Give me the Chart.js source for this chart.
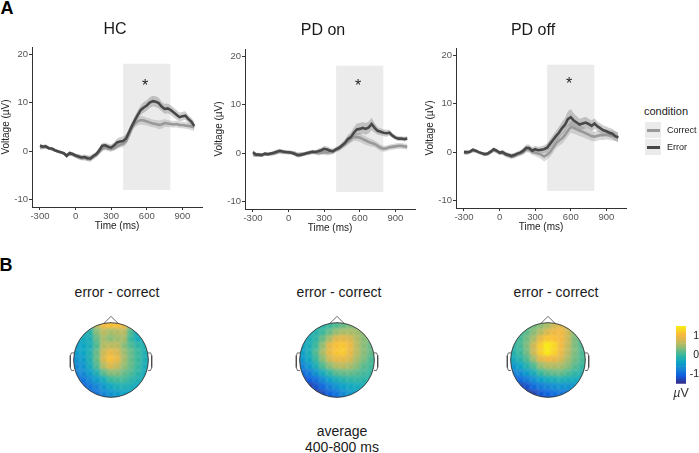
<!DOCTYPE html>
<html>
<head>
<meta charset="utf-8">
<script src="https://cdn.jsdelivr.net/npm/chart.js@4/dist/chart.umd.min.js"></script>
<style>
  html, body { margin: 0; background: #fff; }
  #page { position: relative; width: 699px; height: 453px; overflow: hidden; font-family: "Liberation Sans", Arial, sans-serif; color: #1a1a1a; }
  #page canvas { position: absolute; }
  .txt { position: absolute; transform: translate(-50%, -50%); white-space: nowrap; line-height: 1; }
  .keybox { position: absolute; background: #ebebeb; width: 16px; height: 16px; }
  .keyline { position: absolute; height: 3px; width: 13px; }
</style>
</head>
<body>
<div id="page"></div>
<script>
// Datos
const times = [-300,-275,-250,-225,-200,-175,-150,-125,-100,-75,-50,-25,0,25,50,75,100,125,150,175,200,225,250,275,300,325,350,375,400,425,450,475,500,525,550,575,600,625,650,675,700,725,750,775,800,825,850,875,900,925,950,975,1000];

const hcCorrect = [.8,.8,.9,.6,.4,.2,-.1,-.3,-.5,-.8,-.6,-.7,-1,-1.2,-1.4,-1.4,-1.5,-1.6,-1.2,-.8,-.2,.5,.7,.5,.4,.6,1,1.3,1.5,2,3.3,4.8,5.7,6.2,6.4,6.3,6.1,5.9,5.7,5.6,5.4,5.5,5.8,5.7,5.6,5.5,5.6,5.4,5.4,5.3,5.2,5.1,4.9];
const hcError = [1.1,.9,1,.6,.55,.2,0,-.2,-.4,-1,-.4,-.6,-.9,-1.1,-1.3,-1.2,-1.45,-1.5,-1,-.6,.2,1.1,1.2,.9,.75,1.2,1.8,2,2.1,2.6,3.9,5.2,6.4,7.5,8.5,9,9.4,10,10.3,10.2,9.9,9.2,8.7,8.8,8.5,8,7.5,7,7.2,7.3,6.6,6.1,5.2];
const hcCorrectSem = [.5,.4,.4,.3,.3,.3,.3,.3,.3,.4,.4,.4,.4,.5,.5,.5,.6,.6,.5,.5,.5,.5,.5,.5,.5,.5,.6,.6,.7,.7,.7,.7,.8,.9,.9,.9,.8,.8,.8,.8,.9,.9,.8,.7,.7,.7,.7,.7,.7,.7,.7,.8,.8];
const hcErrorSem = [.5,.4,.4,.3,.3,.3,.3,.3,.3,.4,.4,.4,.4,.5,.5,.5,.6,.6,.5,.5,.6,.6,.6,.6,.6,.7,.8,.9,.9,.9,.8,.8,.9,.9,1,1.1,1.1,1.1,1.1,1.1,1.1,1,1,1,1,1,1,.9,.9,.9,.8,.8,.8];

const onCorrect = [-.3,-.4,-.4,-.5,-.2,-.3,-.2,-.1,.1,.3,.2,.2,.1,.1,-.1,-.3,-.3,-.2,-.1,0,.2,.1,0,.1,.2,.1,.2,.3,.7,.9,1.4,1.9,2.5,3,3.3,3.3,3.2,2.9,2.6,2.3,2.1,1.9,1.5,1.1,.9,1,1.2,1.3,1.4,1.5,1.5,1.4,1.3];
const onError = [.2,-.3,-.3,-.35,-.1,-.2,-.05,.1,.3,.5,.35,.25,.2,.1,-.1,-.4,-.35,-.2,0,.15,.3,.25,.4,.6,.9,.75,.5,.4,.8,1.1,1.6,2.1,2.9,3.3,4.2,4.9,5,5.2,5,5.3,6,5.2,4.6,4.4,4.2,4.1,4.2,3.6,3.2,3,3,2.9,3];
const onCorrectSem = [.5,.4,.4,.3,.3,.3,.3,.4,.4,.4,.4,.4,.4,.4,.5,.5,.5,.4,.4,.4,.4,.4,.5,.5,.6,.6,.6,.5,.5,.5,.6,.7,.8,.8,.8,.8,.9,.9,.9,.8,.8,.7,.7,.7,.6,.6,.6,.6,.6,.6,.6,.6,.6];
const onErrorSem = [.5,.4,.4,.3,.3,.3,.3,.4,.4,.4,.4,.4,.4,.4,.5,.5,.5,.4,.4,.4,.4,.4,.5,.5,.6,.6,.6,.5,.5,.5,.6,.7,.9,1,1.1,1.2,1.2,1.2,1.2,1.2,1.3,1,.8,.7,.7,.7,.6,.5,.5,.5,.5,.5,.5];

const offCorrect = [-.1,-.2,0,.3,.2,-.1,-.3,-.5,-.4,0,.4,.2,-.2,-.1,-.5,-.7,-.9,-.8,-.5,-.3,0,.6,.6,.1,-.1,-.3,-.5,-.9,-.5,0,.9,1.8,2.4,2.8,3.5,4.4,5.2,5,4.7,4.4,4.2,3.9,3.6,3.3,3.2,3.4,3.5,3.5,3.6,3.5,3.4,3.3,3.1];
const offError = [0,0,.1,.5,.3,0,-.2,-.4,-.3,.1,.6,.3,-.1,0,-.4,-.6,-.8,-.6,-.3,-.1,.3,.9,.8,.3,.6,.4,.5,.6,.9,1.7,2.5,3.3,4,4.9,5.6,6.8,7.2,6.5,6.1,5.7,5.9,6.1,5.8,5.4,5.9,5.3,4.9,4.5,4.3,4,3.8,3.3,3];
const offCorrectSem = [.4,.4,.3,.3,.3,.3,.3,.3,.4,.4,.4,.4,.4,.5,.5,.5,.5,.5,.5,.5,.6,.6,.7,.7,.7,.8,.9,1,1,1,1,1,1.1,1.1,1.1,1.2,1.2,1.2,1.1,1.1,1.1,1.1,1,1,1,1,1,1,1,1,1,1,1];
const offErrorSem = [.4,.4,.3,.3,.3,.3,.3,.3,.4,.4,.4,.4,.4,.5,.5,.5,.5,.5,.5,.5,.6,.7,.7,.7,.7,.7,.7,.8,.9,1,1,1.1,1.2,1.3,1.4,1.6,1.7,1.5,1.3,1.2,1.2,1.2,1.1,1.1,1.1,1,1,1,1,1,1,1,.9];

const xTicks = [-300,0,300,600,900];
const yTicks = [-10,0,10,20];
const windowTimes = [400,800];
const windowTop = 18;
const windowBottom = -8;
const panelNames = ['HC','PD on','PD off'];
const conditionNames = ['Correct','Error'];

// Mapas: filas de arriba abajo, columnas de izquierda a derecha (uV)
const topoAxis = [-1.1,-.92,-.73,-.55,-.37,-.18,0,.18,.37,.55,.73,.92,1.1];
const hcTopo = [
  [-.3,-.3,-.2,.1,.5,1,1.1,1.1,1,.5,.1,-.2,-.3],
  [-.4,-.4,-.3,.1,.6,1,1.1,1.1,.95,.4,-.1,-.3,-.3],
  [-.4,-.4,-.3,-.15,.35,.6,.5,.55,.6,.1,-.35,-.45,-.3],
  [-.5,-.4,-.3,-.25,.2,.5,.35,.45,.5,0,-.3,-.25,-.2],
  [-.5,-.5,-.4,-.25,.1,.55,.6,.6,.35,.1,-.1,-.2,-.2],
  [-.6,-.5,-.4,-.2,.2,.7,.9,.75,.45,.2,0,-.2,-.3],
  [-.7,-.6,-.5,-.2,.2,.75,1.1,.9,.5,.2,0,-.2,-.4],
  [-.8,-.7,-.6,-.3,.1,.55,.8,.65,.4,.2,0,-.25,-.4],
  [-.9,-.8,-.7,-.5,-.2,.15,.35,.35,.2,.1,-.1,-.3,-.4],
  [-1,-1,-.9,-.7,-.5,-.3,0,.05,.05,-.1,-.2,-.3,-.4],
  [-1.15,-1.15,-1,-.9,-.75,-.55,-.35,-.25,-.2,-.25,-.35,-.4,-.5],
  [-1.2,-1.2,-1.1,-1,-.9,-.75,-.6,-.5,-.45,-.45,-.45,-.5,-.5],
  [-1.2,-1.2,-1.2,-1.1,-1,-.9,-.75,-.65,-.55,-.55,-.55,-.55,-.55]
];
const onTopo = [
  [-.1,-.1,-.1,-.1,-.1,-.05,.05,.1,.15,.2,.2,.2,.1],
  [-.2,-.2,-.2,-.15,-.1,0,.1,.2,.3,.3,.3,.3,.2],
  [-.3,-.3,-.25,-.15,0,.2,.4,.5,.5,.45,.35,.3,.2],
  [-.4,-.35,-.25,-.1,.2,.5,.8,.85,.75,.55,.35,.3,.2],
  [-.45,-.4,-.25,0,.4,.85,1.1,1.15,.95,.6,.35,.2,.15],
  [-.5,-.45,-.25,.1,.5,.9,1.15,1.2,.9,.6,.35,.2,.1],
  [-.6,-.55,-.35,0,.35,.7,.9,.9,.75,.5,.3,.1,0],
  [-.8,-.75,-.55,-.25,.1,.35,.55,.6,.5,.35,.15,.05,0],
  [-1,-1,-.85,-.6,-.3,-.05,.15,.2,.2,.15,.05,-.05,-.05],
  [-1.3,-1.25,-1.1,-.95,-.7,-.45,-.25,-.15,-.1,-.05,-.1,-.15,-.15],
  [-1.5,-1.45,-1.4,-1.2,-1,-.8,-.6,-.45,-.35,-.3,-.3,-.3,-.3],
  [-1.6,-1.55,-1.5,-1.4,-1.25,-1.05,-.9,-.7,-.55,-.45,-.4,-.4,-.4],
  [-1.6,-1.6,-1.5,-1.4,-1.3,-1.2,-1.05,-.85,-.7,-.6,-.5,-.45,-.4]
];
const offTopo = [
  [0,0,.05,.1,.2,.3,.35,.45,.5,.4,.2,.1,0],
  [0,0,.05,.1,.25,.35,.5,.7,.8,.6,.3,.1,0],
  [-.05,-.05,.05,.15,.35,.55,.75,.95,1,.7,.3,.1,-.05],
  [-.1,-.1,.05,.25,.5,.9,1.15,1.1,1,.7,.3,.1,-.05],
  [-.1,-.1,.05,.3,.7,1.2,1.45,1.3,1,.65,.3,.1,-.05],
  [-.15,-.15,0,.25,.7,1.2,1.45,1.25,.95,.6,.3,.1,0],
  [-.3,-.3,-.15,.1,.45,.85,1,.95,.75,.5,.25,.1,0],
  [-.55,-.55,-.4,-.15,.1,.4,.55,.55,.5,.35,.15,0,-.1],
  [-.8,-.8,-.7,-.5,-.25,0,.15,.2,.2,.1,-.05,-.15,-.2],
  [-1.1,-1.1,-1,-.85,-.65,-.45,-.3,-.25,-.2,-.25,-.3,-.35,-.4],
  [-1.3,-1.3,-1.3,-1.2,-1,-.85,-.75,-.65,-.6,-.6,-.6,-.65,-.7],
  [-1.5,-1.5,-1.5,-1.4,-1.3,-1.15,-1.05,-.95,-.9,-.85,-.85,-.85,-.85],
  [-1.6,-1.6,-1.6,-1.5,-1.4,-1.3,-1.2,-1.1,-1,-1,-1,-1,-1]
];
const noseX = [-.19,0,.19];
const noseY = [-.98,-1.17,-.98];
const leftEarX = [-.99,-1.06,-1.09,-1.09,-1.06,-.99];
const rightEarX = [.99,1.06,1.09,1.09,1.06,.99];
const earY = [-.19,-.19,-.12,.2,.28,.28];
const colorbarLevels = [-1.5,-1.4,-1.3,-1.2,-1.1,-1,-.9,-.8,-.7,-.6,-.5,-.4,-.3,-.2,-.1,0,.1,.2,.3,.4,.5,.6,.7,.8,.9,1,1.1,1.2,1.3,1.4];
const colorbarTicks = [-1,0,1];
const colorbarStep = .1;

const page = document.getElementById('page');
const GREY_LINE = '#999999', DARK_LINE = '#484848';

function addText(text, x, y, css) {
  const d = document.createElement('div');
  d.className = 'txt';
  d.textContent = text;
  d.style.left = x + 'px';
  d.style.top = y + 'px';
  d.style.cssText += css || '';
  page.appendChild(d);
  return d;
}
function addCanvas(left, top, w, h) {
  const c = document.createElement('canvas');
  c.width = w; c.height = h;
  c.style.left = left + 'px'; c.style.top = top + 'px';
  page.appendChild(c);
  return c.getContext('2d');
}
const zip = (xs, ys) => xs.map((x, i) => ({ x, y: ys[i] }));

// Paneles ERP
function bandSets(mean, sem, color) {
  const up = mean.map((v, i) => v + sem[i]);
  const lo = mean.map((v, i) => v - sem[i]);
  return [
    { data: zip(times, up), showLine: true, borderWidth: 0, pointRadius: 0, backgroundColor: color, fill: '+1' },
    { data: zip(times, lo), showLine: true, borderWidth: 0, pointRadius: 0, fill: false }
  ];
}
function erpChart(left, top, correct, error, correctSem, errorSem) {
  const ctx = addCanvas(left, top, 210, 214);
  return new Chart(ctx, {
    type: 'scatter',
    data: { datasets: [
      { data: zip(times, error), showLine: true, borderColor: DARK_LINE, borderWidth: 2.6, pointRadius: 0 },
      { data: zip(times, correct), showLine: true, borderColor: GREY_LINE, borderWidth: 2.6, pointRadius: 0 },
      ...bandSets(error, errorSem, 'rgba(105,105,105,.33)'),
      ...bandSets(correct, correctSem, 'rgba(165,165,165,.42)'),
      { data: zip(windowTimes, [windowTop, windowTop]), showLine: true, borderWidth: 0, pointRadius: 0, backgroundColor: '#ebebeb', fill: { value: windowBottom } }
    ] },
    options: {
      responsive: false, animation: false, events: [],
      layout: { padding: { top: 29, right: 8, left: 0, bottom: 0 } },
      plugins: { legend: { display: false }, tooltip: { enabled: false } },
      scales: {
        x: {
          type: 'linear', min: -367, max: 1065,
          afterBuildTicks: s => { s.ticks = xTicks.map(value => ({ value })); },
          afterFit: s => { s.height = 25; },
          grid: { drawOnChartArea: false, tickLength: 3, tickColor: '#333', tickWidth: 1 },
          border: { color: '#333', width: 1 },
          ticks: { color: '#555', font: { size: 9.5, family: 'Liberation Sans' }, padding: 1, maxRotation: 0 },
          title: { display: true, text: 'Time (ms)', color: '#222', font: { size: 10, family: 'Liberation Sans' }, padding: 0 }
        },
        y: {
          min: -11.5, max: 21.45,
          afterBuildTicks: s => { s.ticks = yTicks.map(value => ({ value })); },
          afterFit: s => { s.width = 32; },
          grid: { drawOnChartArea: false, tickLength: 3, tickColor: '#333', tickWidth: 1 },
          border: { color: '#333', width: 1 },
          ticks: { color: '#555', font: { size: 9.5, family: 'Liberation Sans' }, padding: 1 },
          title: { display: true, text: 'Voltage (µV)', color: '#222', font: { size: 10, family: 'Liberation Sans' }, padding: 0 }
        }
      }
    }
  });
}
erpChart(0, 18, hcCorrect, hcError, hcCorrectSem, hcErrorSem);
erpChart(213, 20, onCorrect, onError, onCorrectSem, onErrorSem);
erpChart(424, 19, offCorrect, offError, offCorrectSem, offErrorSem);

// Colores tipo parula, por valor
const colorStops = [[-1.5,[53,42,135]],[-1.1,[13,95,224]],[-.75,[21,133,212]],[-.4,[10,165,197]],[0,[56,183,156]],[.4,[149,189,114]],[.75,[216,184,80]],[1.05,[248,185,62]],[1.5,[249,240,14]]];
function valueColor(v) {
  v = Math.max(-1.5, Math.min(1.5, v));
  let i = 0;
  while (i < colorStops.length - 2 && v > colorStops[i + 1][0]) i++;
  const [a, ca] = colorStops[i], [b, cb] = colorStops[i + 1];
  const t = (v - a) / (b - a);
  const c = ca.map((n, k) => Math.round(n + (cb[k] - n) * t));
  return `rgb(${c[0]},${c[1]},${c[2]})`;
}

// Difumina y recorta las celdas al circulo de la cabeza
const headClip = {
  id: 'headClip',
  beforeDatasetDraw(chart, args) {
    if (args.index !== 0) return;
    const { x, y } = chart.scales;
    const ctx = chart.ctx;
    const cx = x.getPixelForValue(0), cy = y.getPixelForValue(0);
    const r = x.getPixelForValue(1) - cx;
    ctx.save();
    ctx.beginPath();
    ctx.arc(cx, cy, r, 0, Math.PI * 2);
    ctx.clip();
    ctx.filter = 'blur(1.8px)';
  },
  afterDatasetDraw(chart, args) {
    if (args.index === 0) chart.ctx.restore();
  }
};

function topoChart(left, top, grid) {
  const ctx = addCanvas(left, top, 112, 112);
  const cells = [];
  const colors = [];
  grid.forEach((row, r) => row.forEach((v, c) => {
    cells.push({ x: topoAxis[c], y: topoAxis[r] });
    colors.push(valueColor(v));
  }));
  const outline = { showLine: true, borderColor: '#444', borderWidth: .8, pointRadius: 0, fill: false };
  return new Chart(ctx, {
    type: 'scatter',
    data: { datasets: [
      { data: cells, order: 5, pointStyle: 'rect', pointRadius: 6, pointBorderWidth: 0, pointBackgroundColor: colors },
      { data: [{ x: 0, y: 0 }], order: 1, pointStyle: 'circle', pointRadius: 37.33, pointBorderColor: '#333', pointBorderWidth: .9, pointBackgroundColor: 'rgba(0,0,0,0)' },
      { ...outline, data: zip(noseX, noseY), order: 2 },
      { ...outline, data: zip(leftEarX, earY), order: 2 },
      { ...outline, data: zip(rightEarX, earY), order: 2 }
    ] },
    options: {
      responsive: false, animation: false, events: [],
      layout: { autoPadding: false, padding: 0 },
      plugins: { legend: { display: false }, tooltip: { enabled: false } },
      scales: {
        x: { type: 'linear', display: false, min: -1.5, max: 1.5 },
        y: { type: 'linear', display: false, min: -1.5, max: 1.5, reverse: true }
      }
    },
    plugins: [headClip]
  });
}
topoChart(55, 304, hcTopo);
topoChart(281, 304, onTopo);
topoChart(492, 304, offTopo);

// Barra de color
new Chart(addCanvas(676, 318, 23, 73), {
  type: 'bar',
  data: {
    labels: ['uV'],
    datasets: colorbarLevels.map(v => ({ data: [[v, v + colorbarStep]], backgroundColor: valueColor(v + colorbarStep / 2), grouped: false, barPercentage: 1, categoryPercentage: 1, borderWidth: 0 }))
  },
  options: {
    responsive: false, animation: false, events: [],
    layout: { padding: { top: 6, bottom: 6 } },
    plugins: { legend: { display: false }, tooltip: { enabled: false } },
    scales: {
      x: { display: false },
      y: {
        position: 'right', min: -1.5, max: 1.55,
        afterBuildTicks: s => { s.ticks = colorbarTicks.map(value => ({ value })); },
        afterFit: s => { s.width = 13; },
        grid: { display: false }, border: { display: false },
        ticks: { color: '#222', font: { size: 10.5, family: 'Liberation Sans' }, padding: 1, crossAlign: 'far' }
      }
    }
  }
});

// Textos
addText('A', 7, 8, 'font-size:18px;font-weight:bold;color:#000');
addText('B', 6, 265, 'font-size:18px;font-weight:bold;color:#000');
[[115, 29], [323, 30], [533, 30]].forEach((p, i) => addText(panelNames[i], p[0], p[1], 'font-size:16px'));
[[145, 86], [358, 86], [569, 84]].forEach(p => addText('*', p[0], p[1], 'font-size:16px;color:#222'));
[117, 339, 556].forEach(x => addText('error - correct', x, 292, 'font-size:14px'));
addText('average', 342, 431, 'font-size:14px');
addText('400-800 ms', 342, 447, 'font-size:14px');
const unit = addText('', 681, 393, 'font-size:12.5px;color:#333');
unit.innerHTML = '<i>µ</i>V';

// Leyenda
addText('condition', 666, 111, 'font-size:11px');
conditionNames.forEach((name, i) => {
  const top = 122 + i * 17;
  const box = document.createElement('div');
  box.className = 'keybox';
  box.style.cssText = `left:645px;top:${top}px`;
  page.appendChild(box);
  const line = document.createElement('div');
  line.className = 'keyline';
  line.style.cssText = `left:646.5px;top:${top + 7}px;background:${i ? DARK_LINE : GREY_LINE}`;
  page.appendChild(line);
  const t = addText(name, 667, top + 8, 'font-size:9px');
  t.style.transform = 'translate(0,-50%)';
});
</script>
</body>
</html>
